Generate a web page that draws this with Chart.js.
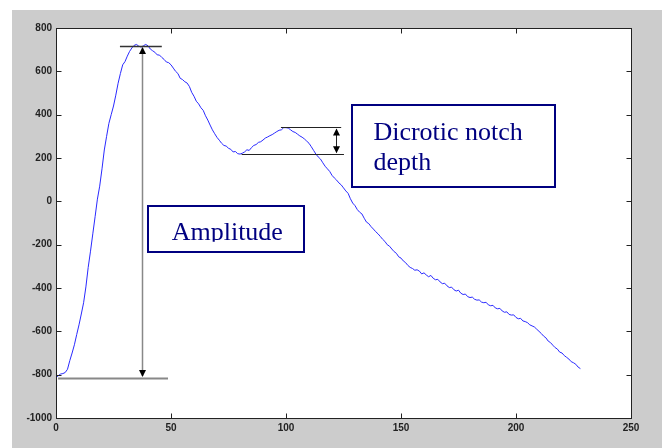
<!DOCTYPE html>
<html>
<head>
<meta charset="utf-8">
<script src="https://cdn.jsdelivr.net/npm/chart.js@4.4.1/dist/chart.umd.min.js"></script>
<style>
  body { margin: 0; background: #fff; }
  #wrap { width: 662px; height: 448px; }
</style>
</head>
<body>
<div id="wrap"><canvas id="pulseChart" width="662" height="448"></canvas></div>
<script>
// pulse waveform, one value per sample (sample 0..228)
const pulse = [
  -812, -805, -797, -795, -790, -775, -735, -700, -662, -615,
  -570, -520, -468, -395, -305, -230, -150, -71, 10, 70,
  150, 237, 300, 360, 400, 440, 490, 545, 590, 630,
  645, 670, 692, 708, 720, 724, 716, 712, 718, 724,
  718, 703, 695, 688, 676, 675, 664, 655, 643, 640,
  630, 615, 600, 590, 568, 562, 552, 546, 530, 503,
  485, 462, 450, 432, 420, 395, 375, 352, 330, 312,
  295, 282, 268, 258, 255, 245, 240, 228, 230, 220,
  218, 222, 228, 238, 235, 248, 258, 262, 272, 275,
  283, 292, 297, 303, 308, 315, 322, 328, 330, 340,
  340, 338, 330, 322, 318, 310, 302, 296, 288, 278,
  268, 252, 235, 218, 205, 195, 178, 162, 150, 138,
  120, 108, 98, 85, 76, 62, 48, 37, 12, -8,
  -20, -38, -50, -58, -78, -96, -103, -117, -128, -140,
  -150, -162, -175, -185, -200, -207, -220, -232, -240, -256,
  -262, -275, -283, -296, -305, -310, -318, -316, -322, -335,
  -330, -340, -348, -342, -355, -362, -360, -372, -380, -378,
  -390, -398, -396, -408, -414, -410, -424, -430, -428, -440,
  -444, -442, -452, -456, -455, -465, -468, -466, -478, -482,
  -480, -492, -496, -494, -506, -512, -510, -522, -525, -524,
  -536, -542, -540, -552, -555, -560, -570, -575, -580, -590,
  -600, -610, -622, -630, -645, -652, -664, -675, -682, -696,
  -700, -712, -720, -728, -740, -745, -752, -765, -772
];
const xTicks = [0, 50, 100, 150, 200, 250];
const yTicks = [-1000, -800, -600, -400, -200, 0, 200, 400, 600, 800];
const amplitudeLabel = ["Amplitude"];
const notchLabel = ["Dicrotic notch", "depth"];

const points = pulse.map((v, i) => ({ x: i, y: v }));

const navy = "#000080";

function arrowHead(ctx, x, y, dir) {
  // dir: -1 points up, 1 points down
  ctx.beginPath();
  ctx.moveTo(x, y);
  ctx.lineTo(x - 3.5, y - dir * 7);
  ctx.lineTo(x + 3.5, y - dir * 7);
  ctx.closePath();
  ctx.fill();
}

function hLine(ctx, xs, ys, x0, x1, y, color, w) {
  ctx.strokeStyle = color;
  ctx.lineWidth = w;
  ctx.beginPath();
  ctx.moveTo(xs.getPixelForValue(x0), Math.round(ys.getPixelForValue(y)) + 0.5);
  ctx.lineTo(xs.getPixelForValue(x1), Math.round(ys.getPixelForValue(y)) + 0.5);
  ctx.stroke();
}

function textBox(ctx, xs, ys, box, lines, clipY) {
  const l = Math.round(xs.getPixelForValue(box.x0));
  const r = Math.round(xs.getPixelForValue(box.x1));
  const t = Math.round(ys.getPixelForValue(box.y0));
  const b = Math.round(ys.getPixelForValue(box.y1));
  ctx.fillStyle = "#fff";
  ctx.fillRect(l, t, r - l, b - t);
  ctx.strokeStyle = navy;
  ctx.lineWidth = 2;
  ctx.strokeRect(l, t, r - l, b - t);
  ctx.save();
  ctx.beginPath();
  const cb = clipY !== undefined ? ys.getPixelForValue(clipY) : b;
  ctx.rect(l + 1, t + 1, r - l - 2, cb - t - 1);
  ctx.clip();
  ctx.fillStyle = navy;
  ctx.font = "26px 'Liberation Serif', 'Times New Roman', serif";
  ctx.textBaseline = "alphabetic";
  ctx.textAlign = "left";
  const tx = xs.getPixelForValue(box.tx);
  lines.forEach((s, i) => {
    ctx.fillText(s, tx, ys.getPixelForValue(box.ty) + i * 30);
  });
  ctx.restore();
}

const matlabLook = {
  id: "matlabLook",
  beforeDraw(chart) {
    const { ctx, chartArea: a } = chart;
    ctx.save();
    ctx.fillStyle = "#fff";
    ctx.fillRect(0, 0, chart.width, chart.height);
    ctx.fillStyle = "#cccccc";
    ctx.fillRect(12, 10, chart.width - 12, chart.height - 10);
    ctx.fillStyle = "#fff";
    ctx.fillRect(a.left, a.top, a.right - a.left, a.bottom - a.top);
    ctx.restore();
  },
  afterDatasetsDraw(chart) {
    const { ctx, chartArea: a } = chart;
    const xs = chart.scales.x, ys = chart.scales.y;
    ctx.save();

    // amplitude marker
    hLine(ctx, xs, ys, 27.8, 46, 717, "#333", 1.5);
    hLine(ctx, xs, ys, 0.9, 48.7, -815, "#888", 2);
    const ax = Math.round(xs.getPixelForValue(37.4)) + 0.5;
    const aTop = ys.getPixelForValue(717);
    const aBot = ys.getPixelForValue(-815);
    ctx.strokeStyle = "#888";
    ctx.lineWidth = 1.5;
    ctx.beginPath();
    ctx.moveTo(ax, aTop + 2);
    ctx.lineTo(ax, aBot - 2);
    ctx.stroke();
    ctx.fillStyle = "#000";
    arrowHead(ctx, ax, aTop + 1, -1);
    arrowHead(ctx, ax, aBot - 1, 1);

    // dicrotic notch marker
    hLine(ctx, xs, ys, 97.8, 124, 341, "#222", 1);
    hLine(ctx, xs, ys, 80.7, 125.2, 217, "#222", 1);
    const nx = Math.round(xs.getPixelForValue(121.6)) + 0.5;
    const nTop = ys.getPixelForValue(341);
    const nBot = ys.getPixelForValue(217);
    ctx.strokeStyle = "#222";
    ctx.lineWidth = 1;
    ctx.beginPath();
    ctx.moveTo(nx, nTop + 2);
    ctx.lineTo(nx, nBot - 2);
    ctx.stroke();
    ctx.fillStyle = "#000";
    arrowHead(ctx, nx, nTop + 1, -1);
    arrowHead(ctx, nx, nBot - 1, 1);

    // text boxes
    textBox(ctx, xs, ys, { x0: 40, x1: 107.8, y0: -20, y1: -232, tx: 50.3, ty: -178 }, amplitudeLabel, -186);
    textBox(ctx, xs, ys, { x0: 128.8, x1: 217, y0: 445, y1: 67.6, tx: 138, ty: 283 }, notchLabel);

    // axes box and inward ticks
    ctx.strokeStyle = "#222";
    ctx.lineWidth = 1;
    const L = Math.round(a.left) + 0.5, R = Math.round(a.right) + 0.5;
    const T = Math.round(a.top) + 0.5, B = Math.round(a.bottom) + 0.5;
    ctx.strokeRect(L, T, R - L, B - T);
    ctx.beginPath();
    xTicks.forEach(v => {
      const p = Math.round(xs.getPixelForValue(v)) + 0.5;
      ctx.moveTo(p, B); ctx.lineTo(p, B - 5);
      ctx.moveTo(p, T); ctx.lineTo(p, T + 5);
    });
    yTicks.forEach(v => {
      const p = Math.round(ys.getPixelForValue(v)) + 0.5;
      ctx.moveTo(L, p); ctx.lineTo(L + 5, p);
      ctx.moveTo(R, p); ctx.lineTo(R - 5, p);
    });
    ctx.stroke();
    ctx.restore();
  }
};

const ctx = document.getElementById("pulseChart").getContext("2d");
const tickFont = { family: "'Liberation Sans', Arial, sans-serif", size: 10, weight: "bold" };

const pulseChart = new Chart(ctx, {
  type: "line",
  data: {
    datasets: [
      {
        data: points,
        borderColor: "#2a2aff",
        borderWidth: 1,
        pointRadius: 0,
        tension: 0,
        fill: false,
      },
    ],
  },
  options: {
    responsive: false,
    animation: false,
    devicePixelRatio: 1,
    layout: { padding: { left: 0, top: 28, right: 31, bottom: 0 } },
    plugins: {
      legend: { display: false },
      tooltip: { enabled: false },
    },
    scales: {
      x: {
        type: "linear",
        min: 0,
        max: 250,
        afterBuildTicks: (s) => { s.ticks = xTicks.map(v => ({ value: v })); },
        afterFit: (s) => { s.height = 30; },
        grid: { display: false, drawTicks: false, tickLength: 0 },
        border: { display: false },
        ticks: { color: "#222", font: tickFont, padding: 4, maxRotation: 0, callback: (v) => String(v) },
      },
      y: {
        type: "linear",
        min: -1000,
        max: 800,
        afterBuildTicks: (s) => { s.ticks = yTicks.map(v => ({ value: v })); },
        afterFit: (s) => { s.width = 56; },
        grid: { display: false, drawTicks: false, tickLength: 0 },
        border: { display: false },
        ticks: { color: "#222", font: tickFont, padding: 4, callback: (v) => String(v) },
      },
    },
  },
  plugins: [matlabLook],
});
</script>
</body>
</html>
